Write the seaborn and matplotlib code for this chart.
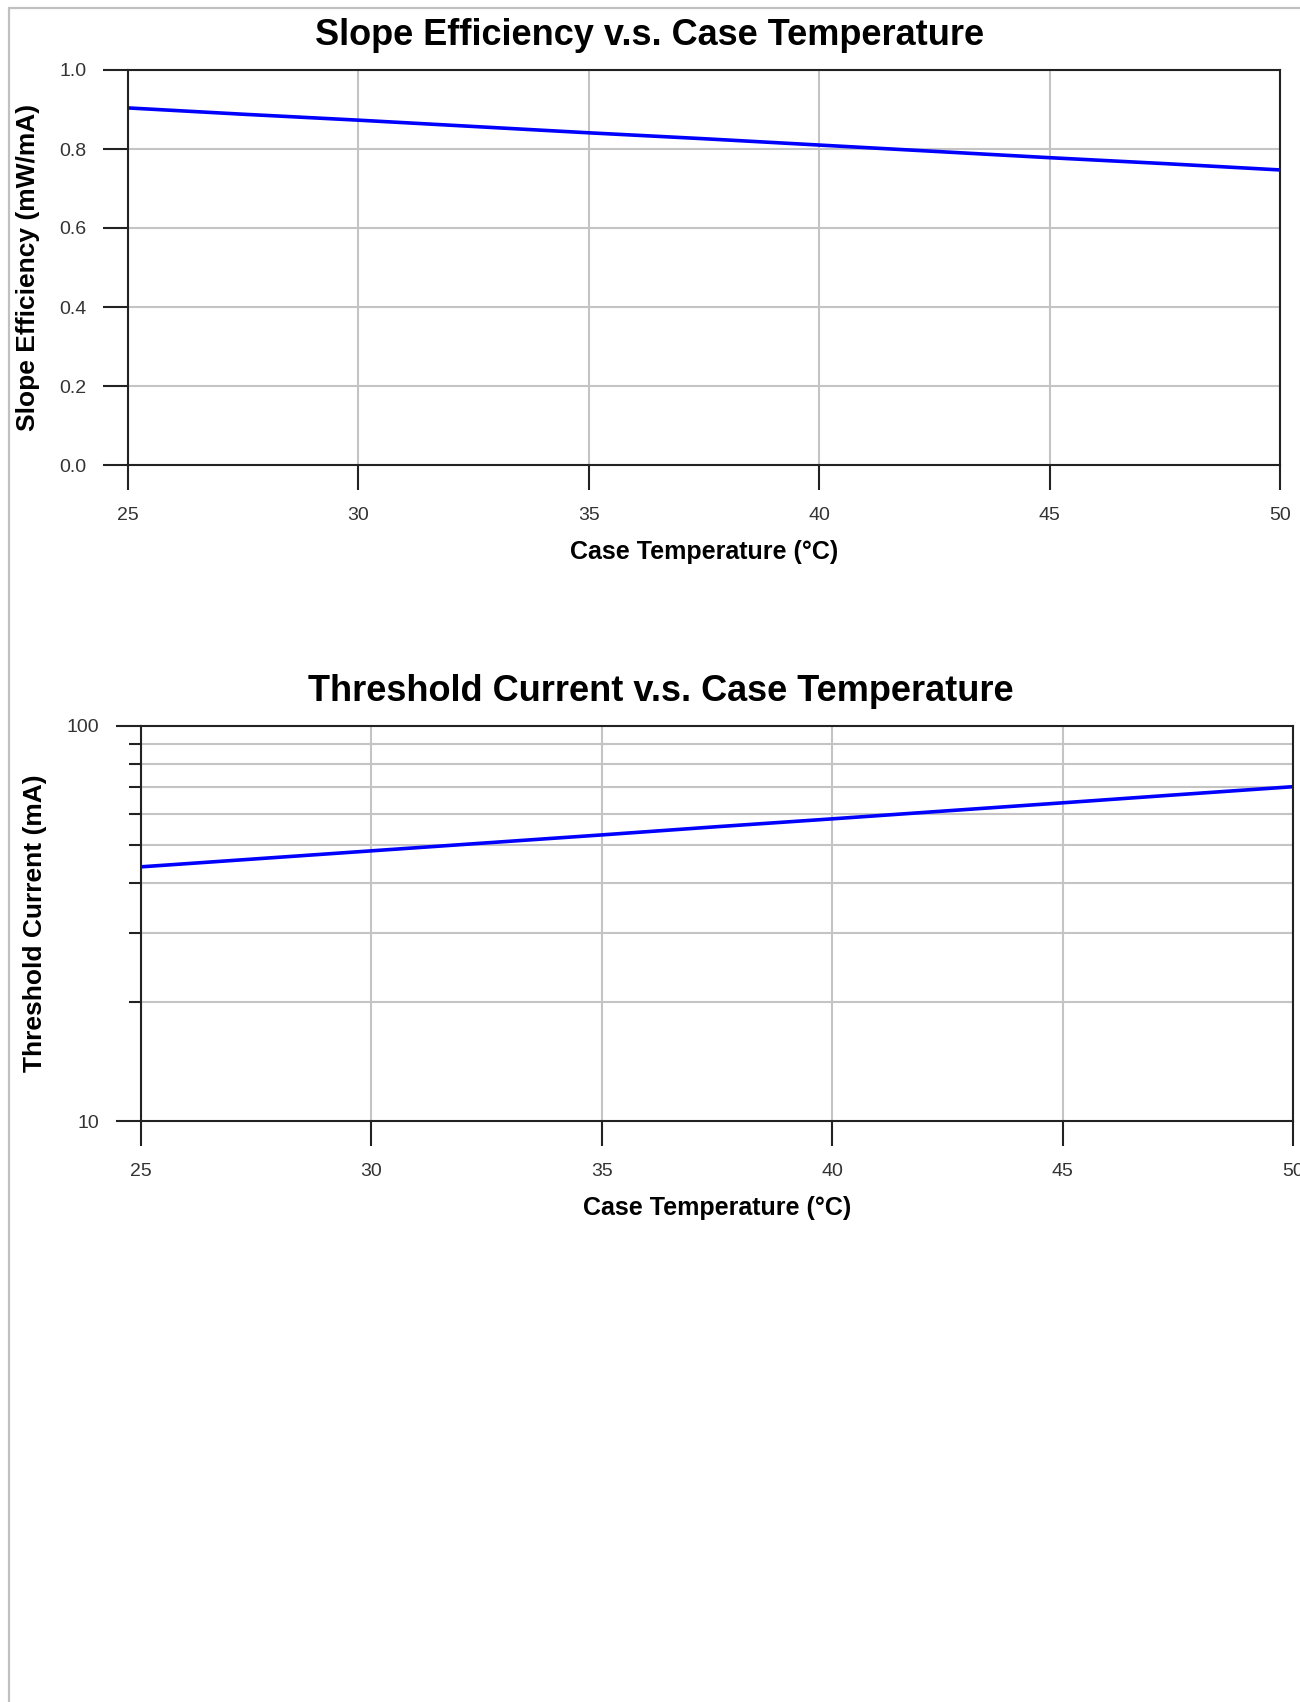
import matplotlib
matplotlib.use("Agg")
import matplotlib.pyplot as plt
from matplotlib.patches import Rectangle
from matplotlib.ticker import FixedLocator, FixedFormatter, NullFormatter
import pandas as pd
import seaborn as sns

# values
case_temp = [25, 27.5, 30, 32.5, 35, 37.5, 40, 42.5, 45, 47.5, 50]
slope_eff = [0.904, 0.888, 0.873, 0.857, 0.841, 0.826, 0.810, 0.794, 0.778, 0.763, 0.747]
thresh_current = [44.0, 46.1, 48.3, 50.6, 53.0, 55.6, 58.2, 61.0, 63.9, 67.0, 70.2]

x_ticks = [25, 30, 35, 40, 45, 50]
se_ticks = [0.0, 0.2, 0.4, 0.6, 0.8, 1.0]
se_tick_labels = ["0.0", "0.2", "0.4", "0.6", "0.8", "1.0"]
ith_ticks = [10, 100]
ith_tick_labels = ["10", "100"]
ith_minor = [20, 30, 40, 50, 60, 70, 80, 90]

df_se = pd.DataFrame({"temp": case_temp, "se": slope_eff})
df_ith = pd.DataFrame({"temp": case_temp, "ith": thresh_current})

sns.set_style("white")
plt.rcParams['font.family'] = ['Liberation Sans', 'DejaVu Sans']
plt.rcParams['text.color'] = 'black'
plt.rcParams['axes.labelcolor'] = 'black'

W, H = 1300, 1702
fig = plt.figure(figsize=(13, 17.02), dpi=100)

# light grey frame round the page
fig.patches.append(Rectangle((9 / W, -0.1), 1.2, 1 - 8 / H + 0.1, transform=fig.transFigure,
                             fill=False, edgecolor="#c0c0c0", linewidth=1.6))

def fbox(l, t, r, b):
    return [l / W, 1 - b / H, (r - l) / W, (b - t) / H]

ax1 = fig.add_axes(fbox(128, 70, 1280, 465))
ax2 = fig.add_axes(fbox(141, 726, 1293, 1121))

grid_kw = dict(color="#c4c4c4", linewidth=1.5)
tick_color = "#333333"

def style_axes(ax):
    for s in ax.spines.values():
        s.set_color("#222222")
        s.set_linewidth(1.5)
    ax.tick_params(axis="both", which="major", direction="out", length=18, width=1.5,
                   color="#222222", labelsize=14, labelcolor=tick_color, pad=12,
                   left=True, bottom=True)
    ax.set_xlim(25, 50)
    ax.set_xticks(x_ticks)
    ax.set_xticklabels([str(t) for t in x_ticks])
    ax.xaxis.grid(True, which="major", **grid_kw)

# slope efficiency
sns.lineplot(data=df_se, x="temp", y="se", ax=ax1, color="#0000ff", linewidth=2.6)
style_axes(ax1)
ax1.set_ylim(0, 1.0)
ax1.set_yticks(se_ticks)
ax1.set_yticklabels(se_tick_labels)
ax1.yaxis.grid(True, which="major", **grid_kw)
ax1.set_axisbelow(True)
ax1.set_title("Slope Efficiency v.s. Case Temperature", fontsize=26, fontweight="bold",
              pad=18, x=0.453)
ax1.set_xlabel("Case Temperature (°C)", fontsize=18, fontweight="bold", labelpad=12)
ax1.set_ylabel("Slope Efficiency (mW/mA)", fontsize=19, fontweight="bold", labelpad=14)

# threshold current
sns.lineplot(data=df_ith, x="temp", y="ith", ax=ax2, color="#0000ff", linewidth=2.6)
ax2.set_yscale("log")
style_axes(ax2)
ax2.set_ylim(10, 100)
ax2.yaxis.set_major_locator(FixedLocator(ith_ticks))
ax2.yaxis.set_major_formatter(FixedFormatter(ith_tick_labels))
ax2.yaxis.set_minor_locator(FixedLocator(ith_minor))
ax2.yaxis.set_minor_formatter(NullFormatter())
ax2.tick_params(axis="y", which="minor", direction="out", length=9, width=1.5,
                color="#222222", left=True)
ax2.yaxis.grid(True, which="minor", **grid_kw)
ax2.set_axisbelow(True)
ax2.set_title("Threshold Current v.s. Case Temperature", fontsize=26, fontweight="bold",
              pad=18, x=0.451)
ax2.set_xlabel("Case Temperature (°C)", fontsize=18, fontweight="bold", labelpad=12)
ax2.set_ylabel("Threshold Current (mA)", fontsize=19, fontweight="bold", labelpad=14)

fig.savefig("out.png", dpi=100)
